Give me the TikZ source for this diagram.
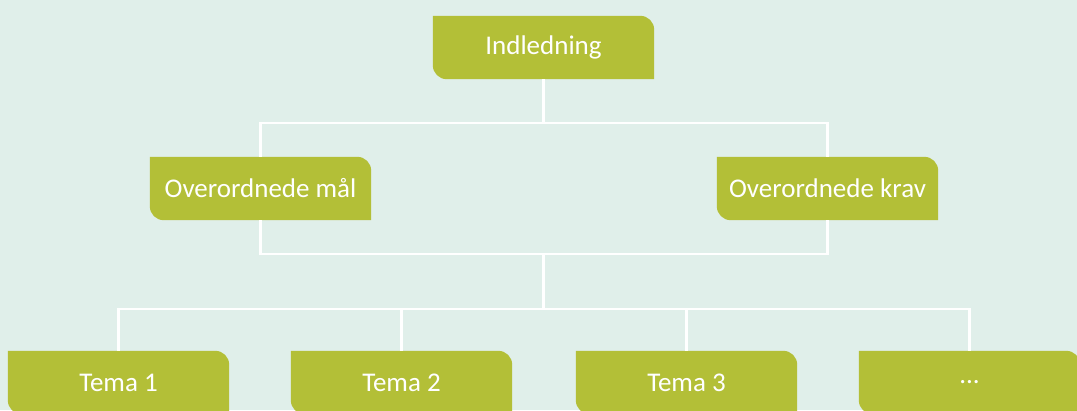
\documentclass[tikz,border=0pt]{standalone}
\usepackage{fontspec}
\setmainfont{Carlito}
\usepackage{tikz}
\usetikzlibrary{calc}
\definecolor{leafgreen}{HTML}{B3BF37}
\definecolor{mint}{HTML}{E0EFEA}
\pgfdeclarelayer{bg}
\pgfdeclarelayer{boxes}
\pgfsetlayers{bg,boxes,main}
\tikzset{
  every picture/.style={
    x=1pt, y=1pt
  },
  leaf/.style={
    minimum width=221pt, minimum height=63pt,
    inner sep=0pt, text=white,
    font=\fontsize{27}{32}\selectfont
  },
  link/.style={
    draw=white, line width=2.5pt
  }
}

\begin{document}
\begin{tikzpicture}
  \useasboundingbox (0,0) rectangle (1077,410);
  \begin{pgfonlayer}{bg}
    \fill[mint] (0,0) rectangle (1077,410);
  \end{pgfonlayer}
  \node[leaf] (ind) at (543.5,362.5) {Indledning};
  \node[leaf] (mal) at (260.5,221.5) {Overordnede mål};
  \node[leaf] (krav) at (827.5,221.5) {Overordnede krav};
  \node[leaf] (t1) at (118.5,27.5) {Tema 1};
  \node[leaf] (t2) at (401.5,27.5) {Tema 2};
  \node[leaf] (t3) at (686.5,27.5) {Tema 3};
  \node[leaf] (t4) at (969.5,27.5) {...};
  \coordinate (j1) at (543.5,287);
  \coordinate (j2) at (543.5,156);
  \coordinate (j3) at (543.5,101);
  \begin{pgfonlayer}{boxes}
    \foreach \n in {ind,mal,krav,t1,t2,t3,t4}
      \fill[leafgreen] (\n.north west) -- ([xshift=-14pt]\n.north east)
        arc[start angle=90, end angle=0, radius=14pt] -- (\n.south east)
        -- ([xshift=14pt]\n.south west)
        arc[start angle=270, end angle=180, radius=14pt] -- cycle;
    \draw[link] (ind) -- (j1);
    \draw[link] (mal.north) |- (j1) -| (krav.north);
    \draw[link] (mal.south) |- (j2) -| (krav.south);
    \draw[link] (j2) -- (j3);
    \draw[link] (t1.north) |- (j3) -| (t4.north);
    \draw[link] (t2.north) |- (j3);
    \draw[link] (t3.north) |- (j3);
  \end{pgfonlayer}
\end{tikzpicture}
\end{document}
